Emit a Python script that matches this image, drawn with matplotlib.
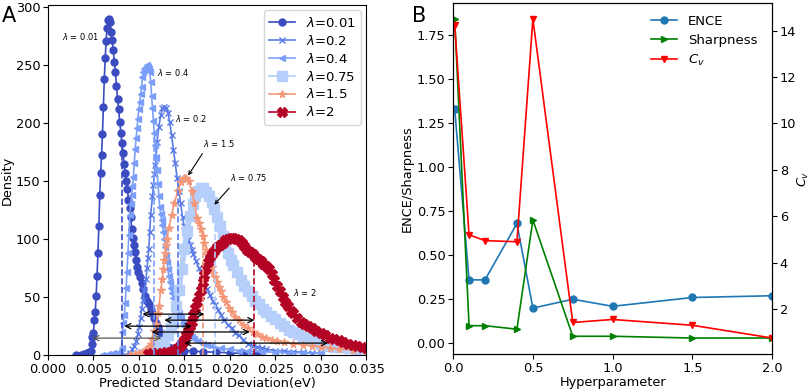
import numpy as np
import matplotlib
matplotlib.use("Agg")
import matplotlib.pyplot as plt

# ---- panel A: density of predicted std for each lambda ----
lam_001 = [(0.0031, 0.5), (0.0036, 0.5), (0.0040, 1), (0.0043, 1.5), (0.0045, 2.5), (0.0047, 4),
           (0.0048, 10), (0.0049, 16), (0.0050, 19), (0.0051, 30), (0.0052, 37), (0.0053, 51),
           (0.0054, 68), (0.0055, 88), (0.0056, 111), (0.0057, 138), (0.0058, 157), (0.0059, 173),
           (0.0060, 191), (0.0061, 214), (0.0062, 238), (0.0063, 256), (0.0064, 271), (0.0065, 282),
           (0.0066, 289), (0.0067, 290), (0.00682, 287), (0.00694, 279), (0.00706, 272), (0.00718, 263),
           (0.0073, 253), (0.00742, 244), (0.00754, 232), (0.00766, 221), (0.00778, 212), (0.0079, 201),
           (0.00802, 192), (0.00814, 183), (0.00826, 174), (0.00838, 165), (0.0085, 157), (0.00862, 150),
           (0.00874, 143), (0.00886, 134), (0.00898, 127), (0.0091, 119), (0.00922, 109), (0.00934, 101),
           (0.00946, 95), (0.00958, 89), (0.0097, 82), (0.00982, 76), (0.00994, 72), (0.0101, 67),
           (0.0103, 62), (0.0105, 57), (0.0107, 51), (0.0109, 47), (0.0111, 44), (0.0113, 40),
           (0.0115, 36), (0.0117, 32), (0.0119, 28), (0.0121, 24), (0.0123, 20), (0.0125, 16),
           (0.0127, 12), (0.0129, 9), (0.0132, 7), (0.0135, 6), (0.0140, 5), (0.0145, 4.5),
           (0.0150, 4), (0.0160, 3.5), (0.0170, 3), (0.0185, 2.5), (0.0200, 2), (0.0215, 1.5), (0.0230, 1)]

lam_02 = [(0.0085, 0.5), (0.0090, 2), (0.0093, 5), (0.0095, 8), (0.0097, 12), (0.0099, 18),
          (0.0100, 24), (0.0102, 32), (0.0103, 40), (0.0105, 48), (0.0106, 56), (0.0108, 66),
          (0.0109, 75), (0.0110, 84), (0.0111, 92), (0.0112, 106), (0.0113, 121), (0.0115, 137),
          (0.0116, 147), (0.0117, 156), (0.0118, 164), (0.0119, 171), (0.0120, 184), (0.0122, 197),
          (0.0124, 207), (0.0126, 213), (0.0128, 214), (0.0130, 213), (0.0132, 209), (0.0134, 201),
          (0.0136, 190), (0.0138, 177), (0.0140, 166), (0.0142, 153), (0.0144, 142), (0.0146, 131),
          (0.0148, 119), (0.0150, 111), (0.0152, 104), (0.0154, 99), (0.0156, 95), (0.0158, 91),
          (0.0160, 87), (0.0163, 81), (0.0166, 75), (0.0169, 69), (0.0172, 63), (0.0175, 57),
          (0.0178, 52), (0.0181, 47), (0.0184, 43), (0.0187, 39), (0.0190, 35), (0.0194, 30),
          (0.0198, 26), (0.0202, 23), (0.0206, 19), (0.0210, 17), (0.0215, 13), (0.0220, 10),
          (0.0225, 8), (0.0230, 7), (0.0235, 6), (0.0240, 5), (0.0250, 4), (0.0260, 3.5),
          (0.0270, 3), (0.0280, 2.5), (0.0290, 2), (0.0300, 1.5)]

lam_04 = [(0.0060, 0.5), (0.0066, 1), (0.0072, 1.5), (0.0076, 2), (0.0079, 3), (0.0081, 6),
          (0.0082, 20), (0.0083, 28), (0.0084, 35), (0.0085, 45), (0.0086, 58), (0.0087, 72),
          (0.0088, 88), (0.0089, 104), (0.0090, 121), (0.0091, 130), (0.0092, 138), (0.0093, 146),
          (0.0094, 154), (0.0095, 166), (0.0096, 178), (0.0097, 187), (0.0098, 196), (0.0099, 204),
          (0.0100, 212), (0.0101, 218), (0.0102, 225), (0.0103, 231), (0.0104, 240), (0.0105, 244),
          (0.0106, 247), (0.0107, 248), (0.0108, 249), (0.0109, 250), (0.0110, 249), (0.0111, 247),
          (0.0112, 244), (0.0113, 236), (0.0114, 224), (0.0115, 213), (0.0116, 202), (0.0117, 192),
          (0.0118, 181), (0.0119, 170), (0.0120, 160), (0.0121, 148), (0.0122, 137), (0.0123, 128),
          (0.0124, 122), (0.0125, 117), (0.0126, 112), (0.0127, 106), (0.0128, 100), (0.0129, 93),
          (0.0130, 86), (0.0131, 80), (0.0132, 74), (0.0133, 68), (0.0134, 63), (0.0135, 58),
          (0.0136, 54), (0.0138, 49), (0.0140, 44), (0.0142, 40), (0.0144, 36), (0.0146, 32),
          (0.0148, 28), (0.0150, 25), (0.0152, 22), (0.0155, 19), (0.0158, 16), (0.0161, 14),
          (0.0165, 12), (0.0170, 10), (0.0175, 9), (0.0180, 8), (0.0190, 6), (0.0200, 5),
          (0.0210, 4), (0.0220, 3.5), (0.0235, 3), (0.0250, 2.5), (0.0265, 2), (0.0280, 2), (0.0300, 1.5)]

lam_075 = [(0.0100, 0.5), (0.0106, 1), (0.0112, 3), (0.0116, 4), (0.0120, 6), (0.0124, 8),
           (0.0128, 11), (0.0132, 17), (0.0135, 23), (0.0138, 30), (0.0141, 42), (0.0144, 56),
           (0.0147, 74), (0.0150, 92), (0.0153, 107), (0.0156, 120), (0.0159, 130), (0.0162, 137),
           (0.0165, 142), (0.0168, 144), (0.0171, 144), (0.0174, 141), (0.0177, 137), (0.0180, 132),
           (0.0183, 126), (0.0186, 119), (0.0189, 111), (0.0192, 103), (0.0195, 95), (0.0198, 88),
           (0.0201, 82), (0.0204, 78), (0.0208, 72), (0.0212, 65), (0.0216, 60), (0.0220, 55),
           (0.0224, 51), (0.0228, 47), (0.0232, 44), (0.0236, 40), (0.0240, 37), (0.0245, 34),
           (0.0250, 31), (0.0255, 28), (0.0260, 25), (0.0265, 22), (0.0270, 20), (0.0275, 18),
           (0.0280, 16), (0.0285, 14), (0.0290, 13), (0.0295, 12), (0.0300, 10), (0.0305, 9),
           (0.0310, 8), (0.0315, 7), (0.0320, 7), (0.0330, 6), (0.0340, 5), (0.0350, 5)]

lam_15 = [(0.0090, 0.5), (0.0096, 1), (0.0100, 1.5), (0.0103, 2), (0.0106, 3), (0.0109, 5),
          (0.0111, 7), (0.0113, 10), (0.0115, 14), (0.0117, 21), (0.0119, 27), (0.0121, 36),
          (0.0122, 42), (0.0124, 56), (0.0126, 66), (0.0127, 74), (0.0128, 82), (0.0129, 88),
          (0.0130, 95), (0.0131, 100), (0.0133, 110), (0.0136, 121), (0.0139, 131), (0.0143, 142),
          (0.0146, 149), (0.0148, 152), (0.0150, 153), (0.0152, 153), (0.0155, 150), (0.0158, 142),
          (0.0161, 131), (0.0164, 118), (0.0166, 114), (0.0168, 109), (0.0170, 103), (0.0172, 97),
          (0.0174, 91), (0.0176, 86), (0.0178, 81), (0.0180, 76), (0.0182, 71), (0.0184, 67),
          (0.0186, 63), (0.0188, 59), (0.0190, 55), (0.0193, 50), (0.0196, 46), (0.0199, 41),
          (0.0202, 37), (0.0206, 33), (0.0210, 30), (0.0215, 26), (0.0220, 23), (0.0225, 20),
          (0.0230, 18), (0.0235, 16), (0.0240, 15), (0.0246, 13), (0.0252, 12), (0.0260, 11),
          (0.0270, 10), (0.0280, 9), (0.0290, 8), (0.0300, 7), (0.0310, 6), (0.0320, 5),
          (0.0335, 4.5), (0.0350, 4)]

lam_2 = [(0.0110, 1), (0.0115, 2), (0.0120, 2), (0.0125, 2), (0.0130, 2.5), (0.0134, 3),
         (0.0138, 4), (0.0141, 5), (0.0144, 7), (0.0146, 9), (0.0148, 11), (0.0150, 13),
         (0.0152, 17), (0.0154, 21), (0.0156, 25), (0.0158, 29), (0.0160, 35), (0.0162, 41),
         (0.0164, 46), (0.0166, 51), (0.0168, 56), (0.0170, 63), (0.0172, 69), (0.0174, 75),
         (0.0176, 80), (0.0178, 84), (0.0180, 87), (0.0183, 90), (0.0186, 93), (0.0189, 95),
         (0.0192, 97), (0.0195, 99), (0.0198, 100), (0.0201, 101), (0.0204, 101), (0.0207, 100),
         (0.0210, 99), (0.0213, 97), (0.0216, 94), (0.0219, 91), (0.0222, 89), (0.0225, 87),
         (0.0228, 85), (0.0231, 83), (0.0234, 81), (0.0237, 79), (0.0240, 77), (0.0243, 74),
         (0.0246, 70), (0.0249, 65), (0.0252, 60), (0.0255, 55), (0.0258, 50), (0.0261, 46),
         (0.0264, 42), (0.0267, 38), (0.0270, 36), (0.0274, 32), (0.0278, 29), (0.0282, 27),
         (0.0286, 25), (0.0290, 23), (0.0295, 21), (0.0300, 19), (0.0305, 17), (0.0310, 15),
         (0.0315, 14), (0.0320, 13), (0.0325, 11), (0.0330, 10), (0.0335, 9), (0.0340, 8),
         (0.0345, 7), (0.0350, 6)]

lam_labels = ["0.01", "0.2", "0.4", "0.75", "1.5", "2"]
lam_curves = [lam_001, lam_02, lam_04, lam_075, lam_15, lam_2]
lam_colors = ["#3b4cc0", "#5b7be6", "#7b9ff9", "#b6cefa", "#f4987a", "#b40426"]
lam_markers = ["o", "x", "<", "s", "*", "X"]
lam_ms = [5, 4.5, 5, 7, 5.5, 7]
# width of the dense-marker band drawn under some curves (0 = none)
lam_band = [0, 0, 0, 4.0, 0, 4.0]
lam_means = [0.0082, 0.0143, 0.0117, 0.0184, 0.0171, 0.0227]

# horizontal double arrows: (y, x_start, x_end)
spread_arrows = [(35.4, 0.0104, 0.0172), (30.2, 0.0128, 0.0227), (25.0, 0.0084, 0.0158),
                 (20.0, 0.0114, 0.0222), (14.7, 0.0049, 0.0125), (10.4, 0.0150, 0.0308)]
spread_colors = ["k", "k", "k", "k", "#555555", "k"]

# text labels on the curves: (label, text x, text y, arrow target or None)
curve_notes = [("0.01", 0.00154, 275, None), ("0.4", 0.0120, 244, None), ("0.2", 0.0140, 204, None),
               ("1.5", 0.0170, 183, (0.01525, 153)), ("0.75", 0.0200, 153, (0.0181, 128)),
               ("2", 0.0270, 54, None)]

# ---- panel B: metrics vs hyperparameter ----
hyper = [0.01, 0.1, 0.2, 0.4, 0.5, 0.75, 1.0, 1.5, 2.0]
ence = [1.33, 0.36, 0.36, 0.68, 0.20, 0.25, 0.21, 0.26, 0.27]
sharpness = [1.84, 0.10, 0.10, 0.08, 0.70, 0.04, 0.04, 0.03, 0.03]
cv = [14.25, 5.2, 4.95, 4.9, 14.5, 1.42, 1.55, 1.3, 0.75]

plt.rcParams["font.size"] = 9.3
plt.rcParams["xtick.major.pad"] = 2
plt.rcParams["ytick.major.pad"] = 2

fig = plt.figure(figsize=(8.12, 3.92), dpi=100)
axA = fig.add_axes([0.059, 0.094, 0.392, 0.893])
axB = fig.add_axes([0.558, 0.097, 0.393, 0.895])

for lab, pts, c, m, ms, band in zip(lam_labels, lam_curves, lam_colors, lam_markers, lam_ms, lam_band):
    xs = [p[0] for p in pts]
    ys = [p[1] for p in pts]
    if band > 0:
        axA.plot(xs, ys, color=c, lw=band, solid_capstyle="round")
    axA.plot(xs, ys, color=c, marker=m, ms=ms, lw=1.2, label=r"$\lambda$=" + lab)

for mean, pts, c in zip(lam_means, lam_curves, lam_colors):
    xs = [p[0] for p in pts]
    ys = [p[1] for p in pts]
    axA.vlines(mean, 0, np.interp(mean, xs, ys), colors=c, linestyles="--", lw=1.2)

for (yv, x0, x1), c in zip(spread_arrows, spread_colors):
    axA.annotate("", xy=(x1, yv), xytext=(x0, yv),
                 arrowprops=dict(arrowstyle="<->", color=c, lw=0.9, shrinkA=0, shrinkB=0))

for lab, tx, ty, target in curve_notes:
    txt = r"$\lambda$ = " + lab
    if target is None:
        axA.text(tx, ty, txt, fontsize=6, ha="left", va="center")
    else:
        axA.annotate(txt, xy=target, xytext=(tx, ty), fontsize=6, ha="left", va="center",
                     arrowprops=dict(arrowstyle="->", color="k", lw=0.8, relpos=(0.1, 0.0)))

axA.set_xlim(0, 0.035)
axA.set_ylim(0, 302)
axA.set_xticks(np.arange(0, 0.0351, 0.005))
axA.xaxis.set_major_formatter(matplotlib.ticker.FormatStrFormatter("%.3f"))
axA.set_xlabel("Predicted Standard Deviation(eV)", labelpad=1)
axA.set_ylabel("Density", labelpad=1)
axA.legend(loc="upper right", fontsize=9.5, labelspacing=0.3, handlelength=2.0,
           borderaxespad=0.4)

l1, = axB.plot(hyper, ence, color="#1f77b4", marker="o", ms=5, lw=1.2, label="ENCE")
l2, = axB.plot(hyper, sharpness, color="green", marker=">", ms=5, lw=1.2, label="Sharpness")
axB.set_xlim(0, 2.0)
axB.set_xticks([0.0, 0.5, 1.0, 1.5, 2.0])
axB.set_yticks([0, 0.25, 0.5, 0.75, 1.0, 1.25, 1.5, 1.75])
axB.set_xlabel("Hyperparameter", labelpad=1)
axB.set_ylabel("ENCE/Sharpness", labelpad=2)
axB2 = axB.twinx()
l3, = axB2.plot(hyper, cv, color="red", marker="v", ms=5, lw=1.2, label="$C_v$")
axB2.set_yticks([2, 4, 6, 8, 10, 12, 14])
axB2.set_ylabel("$C_v$", labelpad=0)
axB.legend(handles=[l1, l2, l3], loc="upper right", frameon=False, fontsize=9.5,
           labelspacing=0.45, bbox_to_anchor=(0.99, 1.0))

fig.text(0.002, 0.985, "A", fontsize=15, va="top")
fig.text(0.508, 0.985, "B", fontsize=15, va="top")

fig.savefig("out.png", dpi=100)
